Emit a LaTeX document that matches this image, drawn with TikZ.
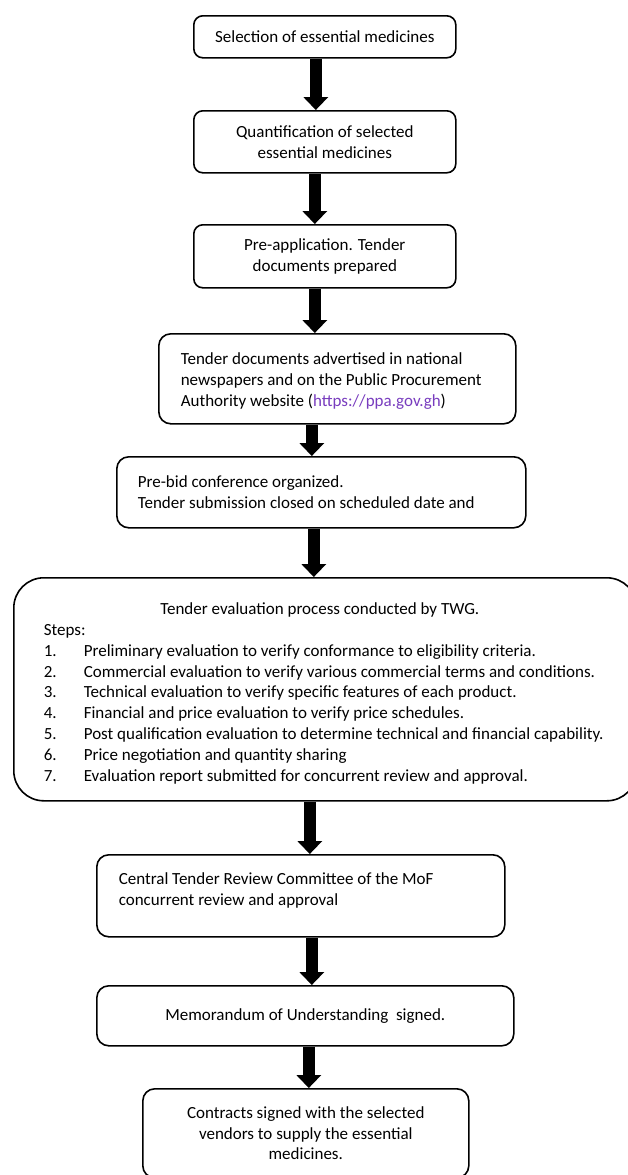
\documentclass[tikz,border=0pt]{standalone}
\usepackage{fontspec}
\setmainfont{Carlito}
\usetikzlibrary{arrows.meta}
\definecolor{linkc}{RGB}{120,60,190}
\newcommand\bt[4]{\parbox[c][#2][#3]{#1}{#4}}
\begin{document}
\begin{tikzpicture}[x=1pt,y=-1pt,
  box/.style={draw, line width=1.6pt, rounded corners=#1, inner sep=0pt, anchor=north west},
  box/.default=9pt,
  flow/.style={line width=12pt, -{Triangle[width=25pt,length=13pt,line width=0pt]}},
  font=\fontsize{17}{20.8}\selectfont]
\useasboundingbox (0,0) rectangle (628,1175);

\node[box] (n1) at (193,15) {\bt{262pt}{42pt}{c}{\centering Selection of essential medicines}};
\node[box] (n2) at (193,110) {\bt{262pt}{62pt}{c}{\centering Quantification of selected\\essential medicines}};
\node[box] (n3) at (193,224) {\bt{262pt}{63pt}{c}{\centering Pre-application. Tender\\documents prepared}};
\node[box=12pt] (n4) at (158,333) {\bt{357pt}{90pt}{c}{\vspace*{4pt}\raggedright\leftskip=22pt Tender documents advertised in national\\newspapers and on the Public Procurement\\Authority website (\textcolor{linkc}{https://ppa.gov.gh})}};
\node[box=12pt] (n5) at (116,456) {\bt{409pt}{71pt}{c}{\raggedright\leftskip=21pt Pre-bid conference organized.\\Tender submission closed on scheduled date and}};
\node[box=30pt] (n6) at (13,577) {\bt{623pt}{223pt}{t}{\vspace*{25pt}{\centering\hspace*{-11pt}Tender evaluation process conducted by TWG.\par}
  \raggedright\leftskip=30pt
  Steps:\par
  \makebox[40pt][l]{1.}Preliminary evaluation to verify conformance to eligibility criteria.\par
  \makebox[40pt][l]{2.}Commercial evaluation to verify various commercial terms and conditions.\par
  \makebox[40pt][l]{3.}Technical evaluation to verify specific features of each product.\par
  \makebox[40pt][l]{4.}Financial and price evaluation to verify price schedules.\par
  \makebox[40pt][l]{5.}Post qualification evaluation to determine technical and financial capability.\par
  \makebox[40pt][l]{6.}Price negotiation and quantity sharing\par
  \makebox[40pt][l]{7.}Evaluation report submitted for concurrent review and approval.\par}};
\node[box=12pt] (n7) at (96,854) {\bt{408pt}{82pt}{t}{\vspace*{18pt}\raggedright\leftskip=22pt Central Tender Review Committee of the MoF\\concurrent review and approval}};
\node[box=12pt] (n8) at (96,985) {\bt{417pt}{60pt}{c}{\centering Memorandum of Understanding\ \ signed.}};
\node[box=12pt] (n9) at (142,1088) {\bt{326pt}{89pt}{c}{\centering Contracts signed with the selected\\vendors to supply the essential\\medicines.}};

\draw[flow] ([xshift=-9pt]n1.south) -- ([xshift=-9pt]n1.south |- n2.north);
\draw[flow] ([xshift=-10pt]n2.south) -- ([xshift=-10pt]n2.south |- n3.north);
\draw[flow] ([xshift=-10pt]n3.south) -- ([xshift=-10pt]n3.south |- n4.north);
\draw[flow] ([xshift=-25.5pt]n4.south) -- ([xshift=-25.5pt]n4.south |- n5.north);
\draw[flow] ([xshift=-7.5pt]n5.south) -- ([xshift=-7.5pt]n5.south |- n6.north);
\draw[flow] ([xshift=-15.5pt]n6.south) -- ([xshift=-15.5pt]n6.south |- n7.north);
\draw[flow] ([xshift=11pt]n7.south) -- ([xshift=11pt]n7.south |- n8.north);
\draw[flow] ([xshift=3.5pt]n8.south) -- ([xshift=3.5pt]n8.south |- n9.north);
\end{tikzpicture}
\end{document}
